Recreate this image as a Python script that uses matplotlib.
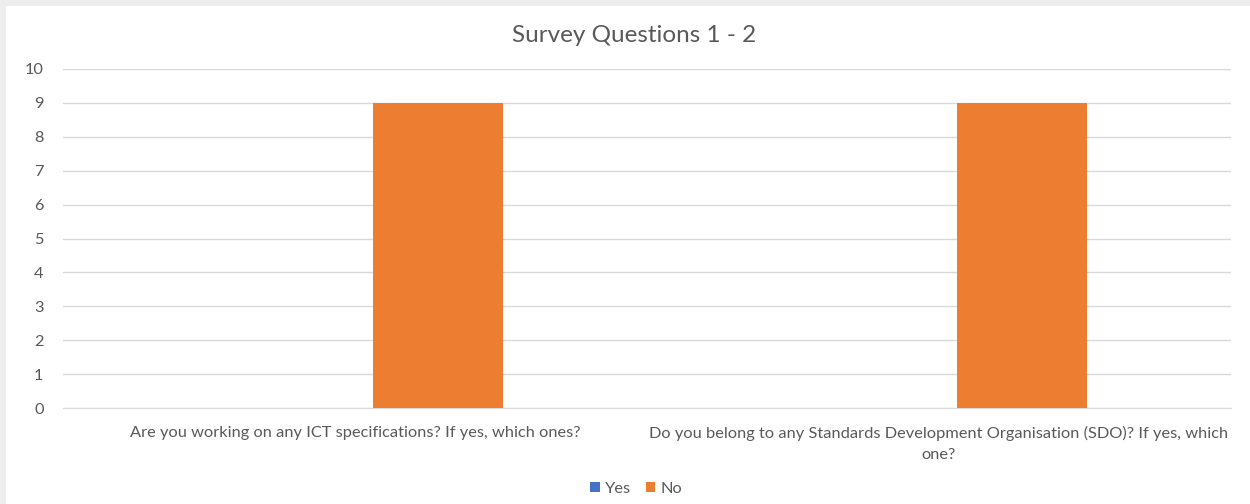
import matplotlib.pyplot as plt
import numpy as np
from matplotlib.patches import Rectangle

plt.rcParams['font.family'] = ['Lato', 'DejaVu Sans']

categories = ['Are you working on any ICT specifications? If yes, which ones?',
              'Do you belong to any Standards Development Organisation (SDO)? If yes, which\none?']
yes_counts = [0, 0]
no_counts = [9, 9]

fig = plt.figure(figsize=(12.5, 5.04), dpi=100, facecolor='white')
# grey shadow on the top and left edges of the screenshot
fig.patches.append(Rectangle((0, 1 - 6 / 504), 1, 6 / 504, transform=fig.transFigure,
                             facecolor='#EDEDED', edgecolor='none', zorder=-5))
fig.patches.append(Rectangle((0, 0), 6 / 1250, 1, transform=fig.transFigure,
                             facecolor='#EDEDED', edgecolor='none', zorder=-5))

ax = fig.add_axes([63 / 1250, (504 - 408) / 504, (1231 - 63) / 1250, (408 - 69) / 504])
ax.set_facecolor('white')

x = np.arange(len(categories))
w = 0.2226
shift = 0.03
ax.bar(x - w / 2 + shift, yes_counts, w, color='#4472C4', label='Yes', zorder=3)
ax.bar(x + w / 2 + shift, no_counts, w, color='#ED7D31', label='No', zorder=3)

ax.set_xlim(-0.5, 1.5)
ax.set_ylim(0, 10)
ax.set_yticks(range(0, 11))
ax.yaxis.grid(True, color='#D9D9D9', linewidth=1)
ax.set_axisbelow(True)
for s in ['top', 'right', 'left']:
    ax.spines[s].set_visible(False)
ax.spines['bottom'].set_color('#D9D9D9')
ax.tick_params(axis='y', length=0, pad=14, labelsize=11.8, labelcolor='#595959')
ax.tick_params(axis='x', length=0, pad=13, labelsize=11.8, labelcolor='#595959')
ax.set_xticks(x)
ax.set_xticklabels(categories, linespacing=1.6)

fig.text(0.507, 1 - 35 / 504, 'Survey Questions 1 - 2', ha='center', va='center',
         fontsize=17.5, color='#595959')

fig.legend(loc='center', bbox_to_anchor=(636 / 1250, 1 - 489 / 504), ncol=2, frameon=False,
           fontsize=11.8, labelcolor='#595959', handlelength=0.6, handleheight=0.6,
           handletextpad=0.3, columnspacing=0.9)

fig.savefig('out.png', dpi=100, facecolor=fig.get_facecolor())
